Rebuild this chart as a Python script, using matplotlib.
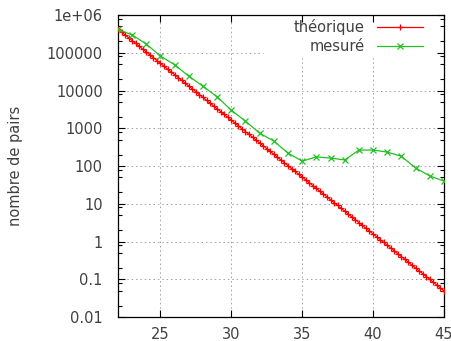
import numpy as np
import matplotlib
matplotlib.use("Agg")
import matplotlib.pyplot as plt
from matplotlib.ticker import FixedLocator, LogLocator, NullFormatter

# theoretical curve, sampled every 0.25 from 22 to 45
theo_x = np.arange(22, 45.001, 0.25)
theo_y = [
    420000, 353000, 297000, 250000,
    210000, 176600, 148500, 124900,
    105000, 88300, 74200, 62400,
    52500, 44100, 37100, 31200,
    26250, 22070, 18560, 15610,
    13130, 11040, 9280, 7800,
    6560, 5520, 4640, 3900,
    3280, 2760, 2320, 1950,
    1640, 1380, 1160, 975,
    820, 690, 580, 488,
    410, 345, 290, 244,
    205, 172, 145, 122,
    102.5, 86.2, 72.5, 60.9,
    51.3, 43.1, 36.2, 30.5,
    25.6, 21.6, 18.1, 15.2,
    12.8, 10.8, 9.06, 7.62,
    6.41, 5.39, 4.53, 3.81,
    3.20, 2.69, 2.26, 1.90,
    1.60, 1.35, 1.13, 0.952,
    0.801, 0.673, 0.566, 0.476,
    0.401, 0.337, 0.283, 0.238,
    0.200, 0.168, 0.142, 0.119,
    0.100, 0.0842, 0.0708, 0.0595,
    0.0501,
]

# measured values
mes_x = [22, 23, 24, 25, 26, 27, 28, 29, 30, 31, 32, 33,
         34, 35, 36, 37, 38, 39, 40, 41, 42, 43, 44, 45]
mes_y = [420000, 296000, 170000, 82000, 48000, 24000, 13000, 6800,
         3000, 1550, 740, 460, 220, 135, 175, 163, 145, 265,
         265, 235, 182, 89, 55, 40]

ytick_vals = [0.01, 0.1, 1, 10, 100, 1000, 10000, 100000, 1e6]
ytick_labels = ["0.01", "0.1", "1", "10", "100", "1000", "10000", "100000", "1e+06"]
xtick_vals = [25, 30, 35, 40, 45]

txt = "#404040"
plt.rcParams["font.family"] = "DejaVu Sans"

fig = plt.figure(figsize=(4.52, 3.41), dpi=100)
ax = fig.add_axes([0.261, 0.070, 0.721, 0.886])

ax.plot(theo_x, theo_y, color="#ff0000", lw=0.9, marker="+", ms=5,
        mew=0.9, label="théorique", zorder=3)
ax.plot(mes_x, mes_y, color="#22c022", lw=0.9, marker="x", ms=4.5,
        mew=0.9, label="mesuré", zorder=4)

ax.set_yscale("log")
ax.set_xlim(22, 45)
ax.set_ylim(0.01, 1e6)

ax.yaxis.set_major_locator(FixedLocator(ytick_vals))
ax.set_yticklabels(ytick_labels)
ax.yaxis.set_minor_locator(LogLocator(base=10, subs=[2, 5, 8], numticks=20))
ax.yaxis.set_minor_formatter(NullFormatter())
ax.set_xticks(xtick_vals)

ax.tick_params(which="both", direction="in", top=True, right=True,
               labelsize=10.5, labelcolor=txt, color="#000000")
ax.tick_params(which="major", length=5, width=0.8)
ax.tick_params(axis="y", which="major", pad=11)
ax.tick_params(axis="x", which="major", pad=7)
ax.tick_params(which="minor", length=3, width=0.8)

# dotted grid, left out where the key box sits (top right)
grid_kw = dict(color="#a0a0a0", linestyle=(0, (1.5, 3)), lw=0.7, zorder=1)
key_left, key_bottom = 0.445, 0.868
for yv in ytick_vals[1:-1]:
    ax.axhline(yv, xmax=key_left if yv >= 1e5 else 1, **grid_kw)
for xv in xtick_vals[:-1]:
    ax.axvline(xv, ymax=key_bottom if xv >= 35 else 1, **grid_kw)

for s in ax.spines.values():
    s.set_linewidth(0.9)

ax.set_ylabel("nombre de pairs", fontsize=10.5, color=txt, labelpad=17)

leg = ax.legend(loc="upper right", bbox_to_anchor=(0.940, 0.990),
                markerfirst=False, frameon=False, fontsize=10.5,
                handlelength=3.15, borderaxespad=0, labelspacing=0.25,
                handletextpad=0.82, borderpad=0.1)
for t in leg.get_texts():
    t.set_color(txt)
    t.set_ha("right")
leg._legend_box.align = "right"

fig.savefig("out.png", dpi=100)
